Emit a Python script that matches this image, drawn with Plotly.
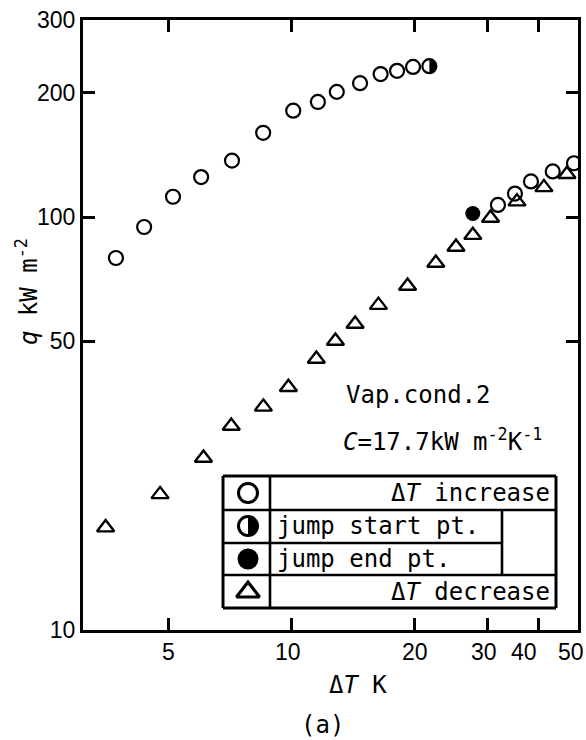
import numpy as np
import plotly.graph_objects as go

# ΔT increase branch (open circles), before and after the jump
inc_dt = [3.73, 4.37, 5.14, 6.02, 7.16, 8.53, 10.1, 11.6, 12.9, 14.7, 16.5, 18.1, 19.8,
          31.9, 35.1, 38.4, 43.4, 48.9]
inc_q = [79.6, 94.6, 112, 125, 137, 160, 181, 190, 201, 211, 222, 226, 231,
         107, 114, 122, 129, 135]

# jump start point (half-filled) and jump end point (filled)
start_dt = [21.7]
start_q = [232]
end_dt = [27.7]
end_q = [102]

# ΔT decrease branch (open triangles)
dec_dt = [3.52, 4.78, 6.10, 7.13, 8.54, 9.83, 11.5, 12.8, 14.3, 16.3, 19.2, 22.5,
          25.2, 27.7, 30.6, 35.5, 41.3, 47.0]
dec_q = [17.7, 21.3, 26.1, 31.2, 34.7, 38.7, 45.3, 50.1, 55.1, 61.2, 68.1, 77.4,
         84.6, 90.4, 99.5, 109, 118, 127]

x_ticks = [5, 10, 20, 30, 40, 50]
x_tick_text = ["5", "10", "20", "30", "40", "50"]
y_ticks = [10, 50, 100, 200, 300]
y_tick_text = ["10", "50", "100", "200", "300"]

legend_labels = ["Δ<i>T</i> increase", "jump start pt.", "jump end pt.", "Δ<i>T</i> decrease"]

W, H = 586, 740
ML, MR, MT, MB = 83, 8, 20, 110
PW = W - ML - MR
PH = H - MT - MB
MONO = "DejaVu Sans Mono"
NUM = "Liberation Sans"

# horizontal nudges (px) for the crowded x tick labels near the right edge
x_label_shift = [0, -3, 0, -3, -14, -7]


def fx(p):
    """pixel column -> paper x"""
    return (p - ML) / PW


def fy(p):
    """pixel row -> paper y"""
    return (MT + PH - p) / PH


def half_disc(r, n=24):
    """right half of a disc as a pixel path around its anchor"""
    t = np.linspace(-np.pi / 2, np.pi / 2, n)
    pts = [f"{r*np.cos(a):.2f},{r*np.sin(a):.2f}" for a in t]
    return "M " + " L ".join(pts) + " Z"


fig = go.Figure()

fig.add_trace(go.Scatter(
    x=inc_dt, y=inc_q, mode="markers",
    marker=dict(symbol="circle-open", size=14, color="black", line=dict(width=2.2))))
fig.add_trace(go.Scatter(
    x=start_dt, y=start_q, mode="markers",
    marker=dict(symbol="circle-open", size=14, color="black", line=dict(width=2.2))))
fig.add_trace(go.Scatter(
    x=end_dt, y=end_q, mode="markers",
    marker=dict(symbol="circle", size=15, color="black", line=dict(width=0))))
fig.add_trace(go.Scatter(
    x=dec_dt, y=dec_q, mode="markers",
    marker=dict(symbol="triangle-up-open", size=15, color="black", line=dict(width=2.4))))

# legend symbols on an overlay axis spanning the plot area
leg_x = fx(248)
leg_rows = [493, 526, 559, 592]
fig.add_trace(go.Scatter(
    x=[leg_x, leg_x], y=[fy(leg_rows[0]), fy(leg_rows[1])], mode="markers",
    xaxis="x2", yaxis="y2",
    marker=dict(symbol="circle-open", size=19, color="black", line=dict(width=3))))
fig.add_trace(go.Scatter(
    x=[leg_x], y=[fy(leg_rows[2])], mode="markers", xaxis="x2", yaxis="y2",
    marker=dict(symbol="circle", size=21, color="black", line=dict(width=0))))
fig.add_trace(go.Scatter(
    x=[leg_x], y=[fy(leg_rows[3])], mode="markers", xaxis="x2", yaxis="y2",
    marker=dict(symbol="triangle-up-open", size=20, color="black", line=dict(width=3.2))))

shapes = []
# filled right halves of the jump-start symbols
shapes.append(dict(type="path", xref="x", yref="y", xsizemode="pixel", ysizemode="pixel",
                   xanchor=start_dt[0], yanchor=start_q[0], path=half_disc(7.2),
                   fillcolor="black", line=dict(width=0)))
shapes.append(dict(type="path", xref="paper", yref="paper", xsizemode="pixel", ysizemode="pixel",
                   xanchor=leg_x, yanchor=fy(leg_rows[1]), path=half_disc(9.5),
                   fillcolor="black", line=dict(width=0)))


def seg(x0, y0, x1, y1, w=2.6):
    shapes.append(dict(type="line", xref="paper", yref="paper",
                       x0=fx(x0), y0=fy(y0), x1=fx(x1), y1=fy(y1),
                       line=dict(color="black", width=w)))


# legend table frame
seg(223, 476, 556, 476, 3)
seg(223, 608, 556, 608, 3)
seg(223, 476, 223, 608, 3)
seg(556, 476, 556, 608, 3)
seg(270, 476, 270, 608)
seg(223, 510, 556, 510)
seg(223, 543, 502, 543)
seg(223, 575, 556, 575)
seg(502, 510, 502, 575)

fig.update_layout(shapes=shapes)

ann = []


def text(s, x, y, xa="center", ya="middle", size=24, angle=0, family=MONO):
    ann.append(dict(text=s, x=fx(x), y=fy(y), xref="paper", yref="paper",
                    xanchor=xa, yanchor=ya, showarrow=False, textangle=angle,
                    borderpad=0, font=dict(family=family, size=size, color="black")))


text(legend_labels[0], 551, leg_rows[0], xa="right")
text(legend_labels[1], 276, leg_rows[1], xa="left")
text(legend_labels[2], 276, leg_rows[2], xa="left")
text(legend_labels[3], 551, leg_rows[3], xa="right")
text("Vap.cond.2", 345, 395, xa="left")
text("<i>C</i>=17.7kW m<sup>-2</sup>K<sup>-1</sup>", 342, 440, xa="left")
text("Δ<i>T</i> K", 358, 685)
text("(a)", 322, 725)
text("<i>q</i> kW m<sup>-2</sup>", 27, 292, angle=-90)

# x tick labels, anchored to the log axis (annotation x is log10 on log axes)
for v, s, dx in zip(x_ticks, x_tick_text, x_label_shift):
    ann.append(dict(text=s, x=np.log10(v), y=fy(652), xref="x", yref="paper",
                    xanchor="center", yanchor="middle", xshift=dx, showarrow=False,
                    borderpad=0, font=dict(family=NUM, size=23, color="black")))

fig.update_layout(annotations=ann)

axis_common = dict(
    type="log", showline=True, linewidth=3, linecolor="black", mirror="ticks",
    ticks="inside", ticklen=12, tickwidth=3, tickcolor="black",
    showgrid=False, zeroline=False,
    tickfont=dict(family=NUM, size=23, color="black"),
)
fig.update_xaxes(**axis_common, range=[np.log10(3.1), np.log10(50.02)],
                 tickvals=x_ticks, showticklabels=False)
fig.update_yaxes(**axis_common, range=[np.log10(9.998), np.log10(300.1)],
                 tickvals=y_ticks, ticktext=y_tick_text)

fig.update_layout(
    xaxis2=dict(overlaying="x", range=[0, 1], visible=False),
    yaxis2=dict(overlaying="y", range=[0, 1], visible=False),
    width=W, height=H,
    margin=dict(l=ML, r=MR, t=MT, b=MB, autoexpand=False),
    paper_bgcolor="white", plot_bgcolor="white",
    showlegend=False,
)

fig.write_html("out.html")
